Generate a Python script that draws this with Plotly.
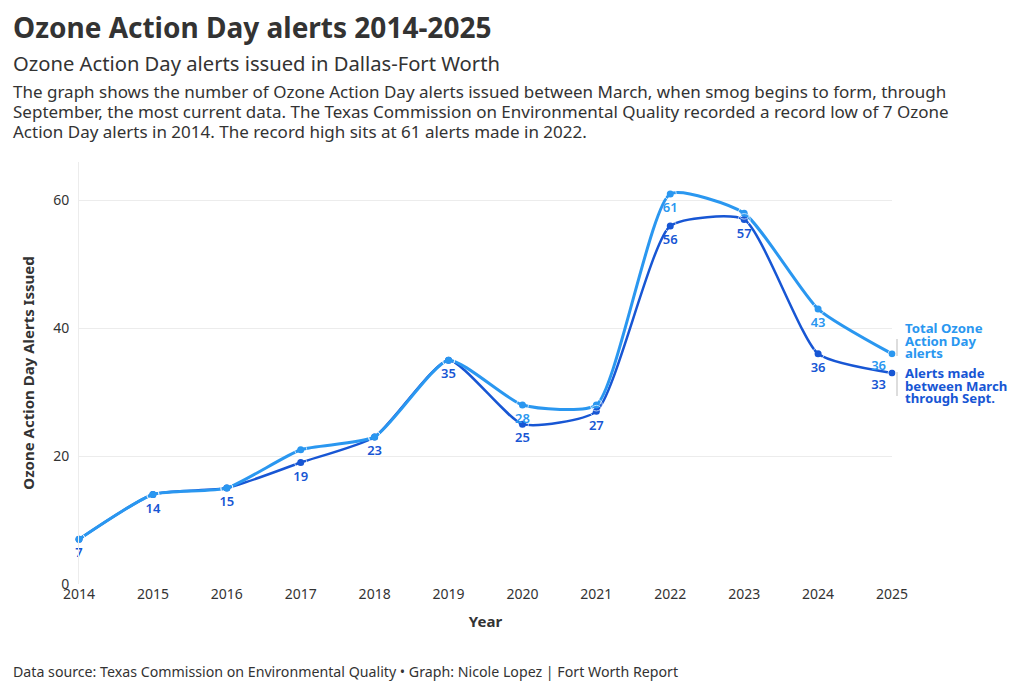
import plotly.graph_objects as go

years = [2014, 2015, 2016, 2017, 2018, 2019, 2020, 2021, 2022, 2023, 2024, 2025]
total_alerts = [7, 14, 15, 21, 23, 35, 28, 28, 61, 58, 43, 36]
march_sept_alerts = [7, 14, 15, 19, 23, 35, 25, 27, 56, 57, 36, 33]
total_labels = ["", "", "", "", "", "", "28", "", "61", "", "43", "36"]
march_sept_labels = ["7", "14", "15", "19", "23", "35", "25", "27", "56", "57", "36", "33"]

LIGHT = "#2a97f0"
DARK = "#1756d4"
TXT = "#333333"
FONT = "Noto Sans"

# plot area in pixels
L, R, T, B = 79, 892, 162, 584
W, H = 1020, 691


def px(x):
    return (x - L) / (R - L)


def py(y):
    return (B - y) / (B - T)


fig = go.Figure()

pos_labels = ["bottom center"] * 11 + ["bottom left"]
label_pad = [12] * 11 + [8]

fig.add_trace(go.Scatter(
    x=years, y=march_sept_alerts, mode="lines+markers",
    line=dict(color=DARK, width=2.5, shape="spline", smoothing=0.55),
    marker=dict(color=DARK, size=7),
    cliponaxis=False, hoverinfo="x+y", showlegend=False,
))
fig.add_trace(go.Scatter(
    x=years, y=total_alerts, mode="lines+markers",
    line=dict(color=LIGHT, width=3, shape="spline", smoothing=0.55),
    marker=dict(color=LIGHT, size=7),
    cliponaxis=False, hoverinfo="x+y", showlegend=False,
))
# value labels (transparent markers push the text a little below each point)
fig.add_trace(go.Scatter(
    x=years, y=march_sept_alerts, mode="markers+text",
    marker=dict(color="rgba(0,0,0,0)", size=label_pad),
    text=march_sept_labels, textposition=pos_labels,
    textfont=dict(family=FONT, size=13, color=DARK, weight=600),
    cliponaxis=False, hoverinfo="skip", showlegend=False,
))
fig.add_trace(go.Scatter(
    x=years, y=total_alerts, mode="markers+text",
    marker=dict(color="rgba(0,0,0,0)", size=label_pad),
    text=total_labels, textposition=pos_labels,
    textfont=dict(family=FONT, size=13, color=LIGHT, weight=600),
    cliponaxis=False, hoverinfo="skip", showlegend=False,
))

annotations = [
    dict(text="<b>Ozone Action Day alerts 2014-2025</b>", x=px(11), y=py(27), xanchor="left", yanchor="middle",
         font=dict(family=FONT, size=28, color=TXT)),
    dict(text="Ozone Action Day alerts issued in Dallas-Fort Worth", x=px(11), y=py(63), xanchor="left", yanchor="middle",
         font=dict(family=FONT, size=20.2, color=TXT)),
    dict(text="Data source: Texas Commission on Environmental Quality • Graph: Nicole Lopez | Fort Worth Report",
         x=px(11), y=py(671), xanchor="left", yanchor="middle",
         font=dict(family=FONT, size=14.2, color=TXT)),
]
desc_lines = [
    "The graph shows the number of Ozone Action Day alerts issued between March, when smog begins to form, through",
    "September, the most current data. The Texas Commission on Environmental Quality recorded a record low of 7 Ozone",
    "Action Day alerts in 2014. The record high sits at 61 alerts made in 2022.",
]
for i, line in enumerate(desc_lines):
    annotations.append(dict(text=line, x=px(11), y=py(92 + 19.5 * i), xanchor="left", yanchor="middle",
                            font=dict(family=FONT, size=17, color=TXT)))

for i, line in enumerate(["Total Ozone", "Action Day", "alerts"]):
    annotations.append(dict(text="<b>" + line + "</b>", x=px(903), y=py(328 + 12.6 * i), xanchor="left", yanchor="middle",
                            font=dict(family=FONT, size=13.2, color=LIGHT)))
for i, line in enumerate(["Alerts made", "between March", "through Sept."]):
    annotations.append(dict(text="<b>" + line + "</b>", x=px(903), y=py(373 + 12.6 * i), xanchor="left", yanchor="middle",
                            font=dict(family=FONT, size=13.2, color=DARK)))

for a in annotations:
    a.update(xref="paper", yref="paper", showarrow=False)

shapes = [
    dict(type="line", xref="paper", yref="paper", x0=px(897), x1=px(897), y0=py(339), y1=py(356),
         line=dict(color="#bbbbbb", width=1)),
    dict(type="line", xref="paper", yref="paper", x0=px(897), x1=px(897), y0=py(372), y1=py(396),
         line=dict(color="#bbbbbb", width=1)),
]

fig.update_layout(
    width=W, height=H,
    margin=dict(l=L, r=W - R, t=T, b=H - B, autoexpand=False),
    paper_bgcolor="white", plot_bgcolor="white",
    font=dict(family=FONT, color=TXT),
    annotations=annotations, shapes=shapes,
    xaxis=dict(
        range=[2014, 2025], tickvals=years, ticktext=[str(y) for y in years],
        showgrid=False, zeroline=False, showline=False, ticks="", automargin=False,
        tickfont=dict(family=FONT, size=14, color=TXT),
        title=dict(text="<b>Year</b>", font=dict(family=FONT, size=15, color=TXT), standoff=14),
    ),
    yaxis=dict(
        range=[0, 66], tickvals=[0, 20, 40, 60],
        showgrid=True, gridcolor="#ececec", gridwidth=1, zeroline=False,
        showline=True, linecolor="#ececec", linewidth=1, ticks="", automargin=False,
        tickfont=dict(family=FONT, size=14, color=TXT), ticklabelstandoff=6,
        title=dict(text="<b>Ozone Action Day Alerts Issued</b>", font=dict(family=FONT, size=15, color=TXT), standoff=14),
    ),
)

fig.write_html("out.html", config={"displayModeBar": False},
               post_script="document.body.style.margin='0px';")
